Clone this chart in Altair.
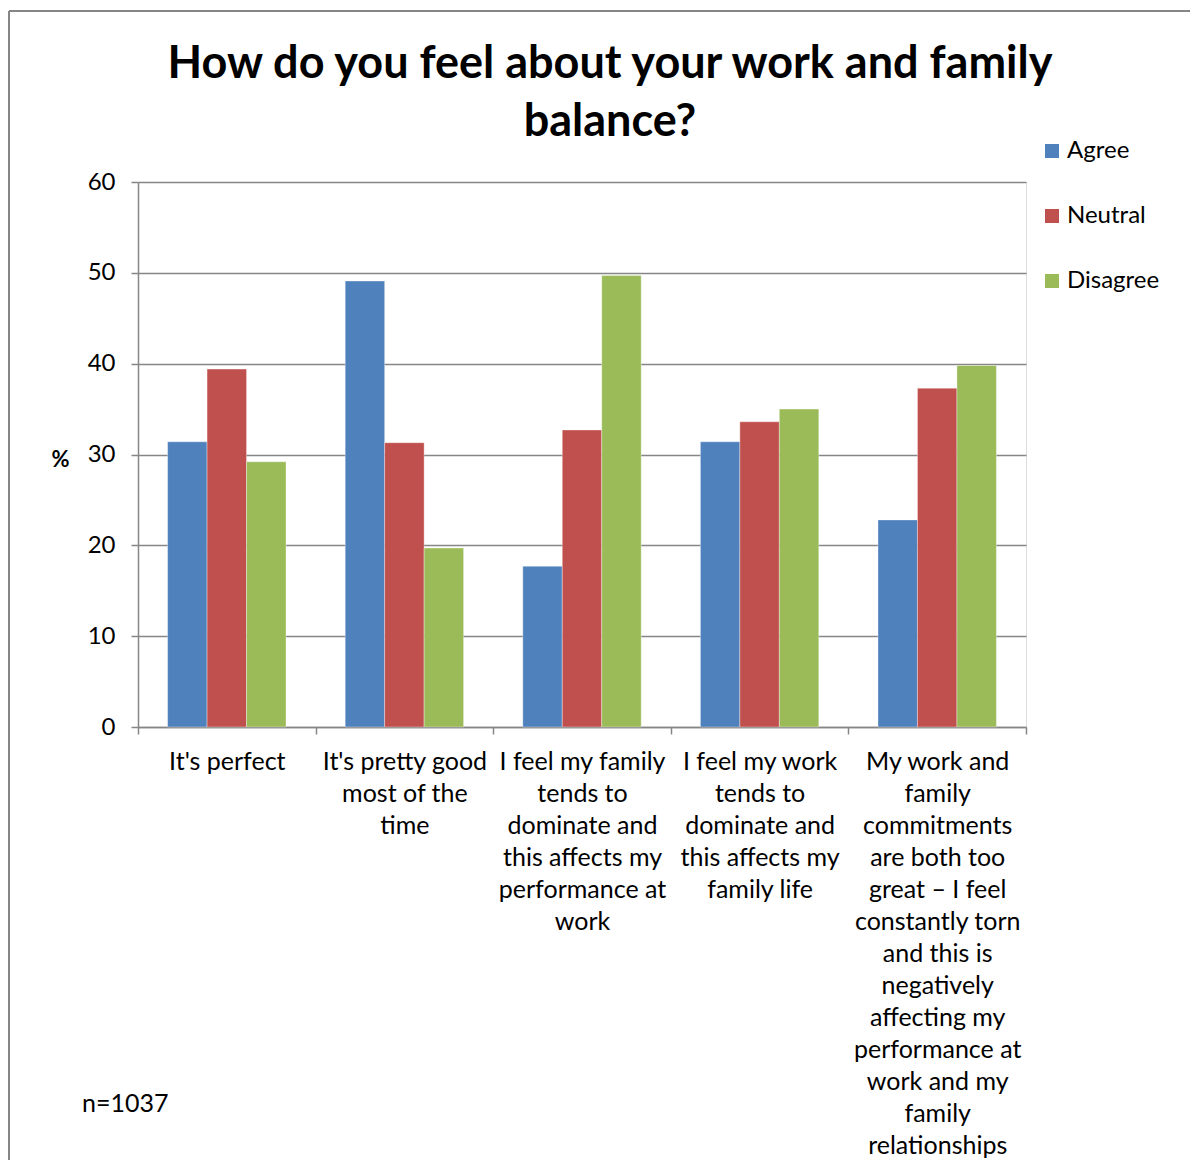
import altair as alt
import pandas as pd

categories = [
    ["It's perfect"],
    ["It's pretty good", "most of the", "time"],
    ["I feel my family", "tends to", "dominate and", "this affects my", "performance at", "work"],
    ["I feel my work", "tends to", "dominate and", "this affects my", "family life"],
    ["My work and", "family", "commitments", "are both too", "great \u2013 I feel", "constantly torn",
     "and this is", "negatively", "affecting my", "performance at", "work and my", "family",
     "relationships"],
]
responses = ["Agree", "Neutral", "Disagree"]
agree = [31.4, 49.1, 17.7, 31.4, 22.8]
neutral = [39.4, 31.3, 32.7, 33.6, 37.3]
disagree = [29.2, 19.7, 49.7, 35.0, 39.8]
colors = ["#4F81BD", "#C0504D", "#9BBB59"]
title_lines = ["How do you feel about your work and family", "balance?"]
note = "n=1037"
y_ticks = [0, 10, 20, 30, 40, 50, 60]

cat_labels = ["\n".join(c) for c in categories]
rows = []
for i, c in enumerate(cat_labels):
    for r, vals in zip(responses, [agree, neutral, disagree]):
        rows.append({"category": c, "response": r, "value": vals[i]})
df = pd.DataFrame(rows)

FONT = "Lato"
GRID = "#868686"

bars = alt.Chart(df).mark_bar(stroke="white", strokeOpacity=0.35, strokeWidth=1).encode(
    x=alt.X("category:N", sort=cat_labels, title=None,
            scale=alt.Scale(paddingInner=0, paddingOuter=0),
            axis=alt.Axis(labelAngle=0,
                          labelExpr="isString(datum.value) ? split(datum.value, '\\n') : ''",
                          labelLimit=400, labelFontSize=25, labelLineHeight=32,
                          labelColor="black", labelFont=FONT, labelPadding=15,
                          tickBand="extent", tickSize=7, tickColor=GRID, tickWidth=1.5,
                          domainColor=GRID, domainWidth=1.5, grid=False)),
    xOffset=alt.XOffset("response:N", sort=responses,
                        scale=alt.Scale(paddingInner=0, paddingOuter=0.75)),
    y=alt.Y("value:Q", scale=alt.Scale(domain=[0, 60], nice=False),
            axis=alt.Axis(values=y_ticks, title="%", titleAngle=0, titleX=-78, titleY=277,
                          titleAlign="center", titleBaseline="middle", titleFontSize=22,
                          titleFont=FONT, titleFontWeight="bold", titleColor="black",
                          labelFontSize=24, labelFont=FONT, labelColor="black", labelPadding=16,
                          tickSize=7, tickColor=GRID, tickWidth=1.5,
                          domainColor=GRID, domainWidth=1.5,
                          grid=True, gridColor=GRID, gridWidth=1.5)),
    color=alt.Color("response:N", sort=responses,
                    scale=alt.Scale(domain=responses, range=colors),
                    legend=alt.Legend(title=None, orient="none", legendX=902, legendY=-43,
                                      symbolType="square", symbolSize=196, symbolStrokeWidth=0,
                                      labelFontSize=24, labelFont=FONT, labelColor="black",
                                      labelOffset=3, rowPadding=41, padding=0)),
)

note_layer = alt.Chart(alt.Data(values=[{"t": note}])).mark_text(
    align="left", baseline="middle", fontSize=25, font=FONT, color="black"
).encode(text="t:N", x=alt.value(-56), y=alt.value(922))

frame_top = alt.Chart(alt.Data(values=[{}])).mark_rule(color=GRID, strokeWidth=2).encode(
    x=alt.value(-129), x2=alt.value(1052), y=alt.value(-171))
frame_left = alt.Chart(alt.Data(values=[{}])).mark_rule(color=GRID, strokeWidth=2).encode(
    x=alt.value(-129), y=alt.value(-171), y2=alt.value(990))

chart = alt.layer(frame_top, frame_left, bars, note_layer).properties(
    width=888, height=545,
    padding={"left": 130, "top": 174, "right": 164, "bottom": 433},
    autosize=alt.AutoSizeParams(type="none"),
    title=alt.TitleParams(text=title_lines, fontSize=45, font=FONT, fontWeight="bold",
                          color="black", anchor="middle", dx=28, lineHeight=58,
                          baseline="bottom", offset=20, dy=200),
).configure_view(strokeWidth=0).configure(background="white")

chart.save("out.html", embed_options={"renderer": "svg", "actions": False})
